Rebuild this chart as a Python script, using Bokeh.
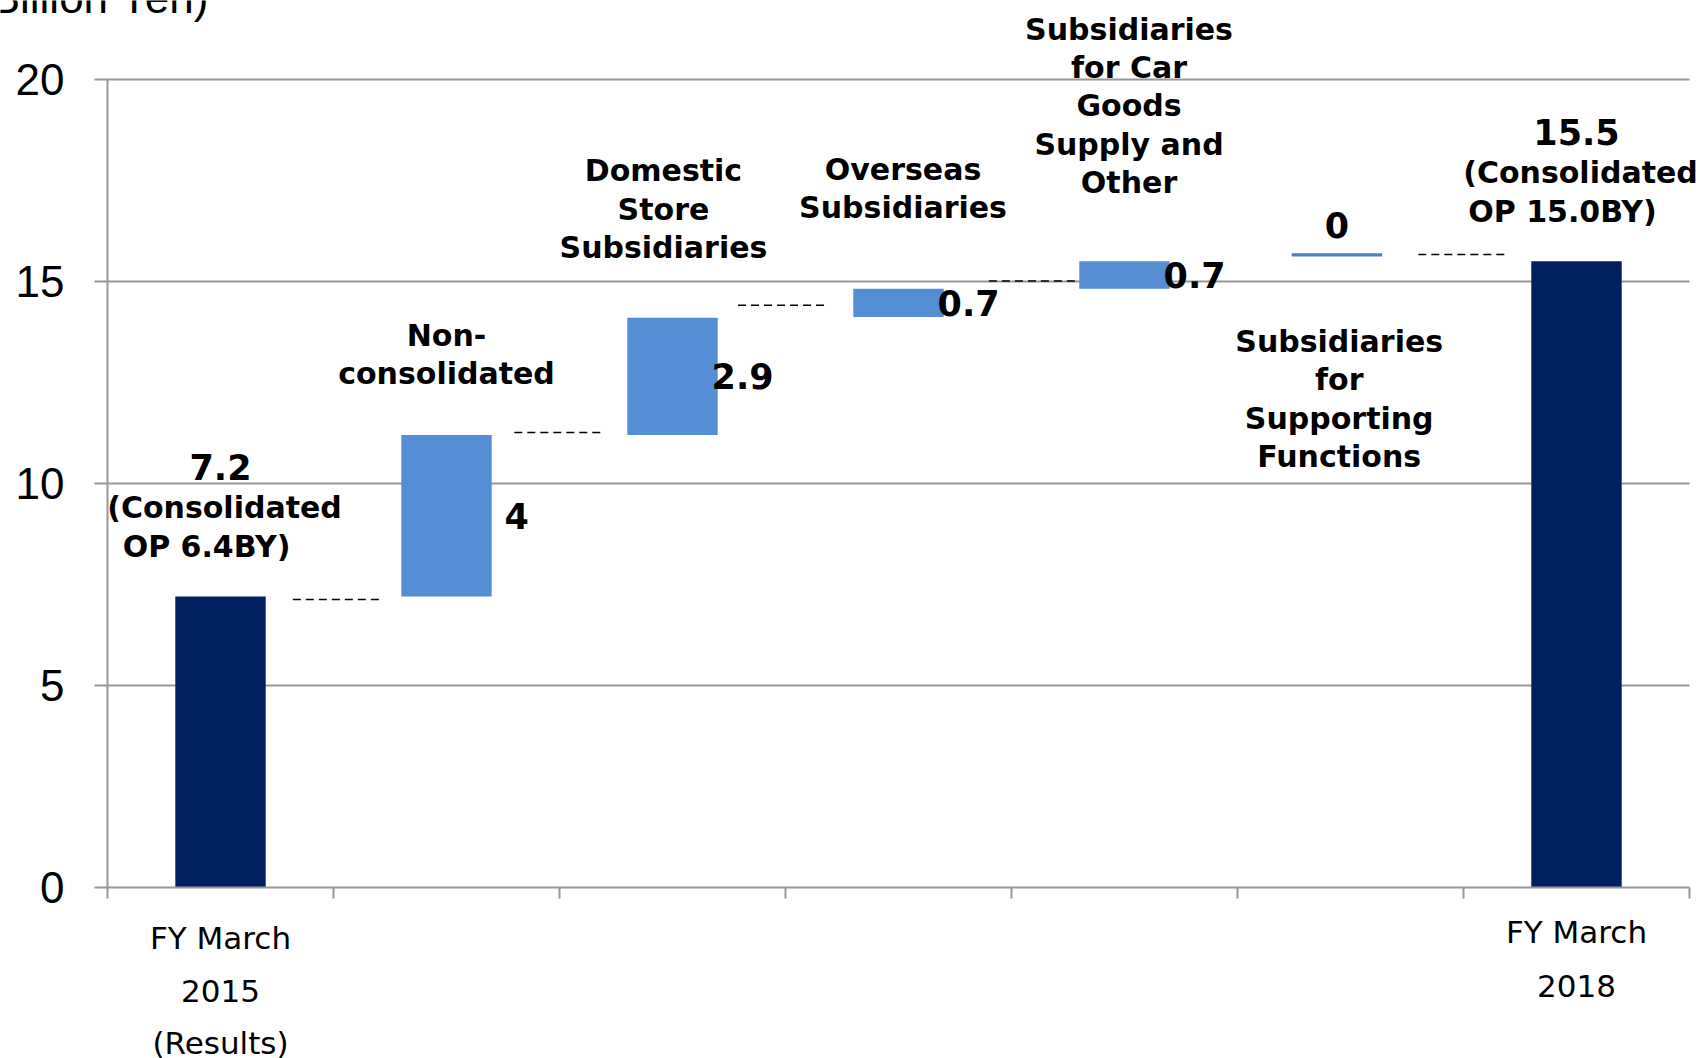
from bokeh.plotting import figure
from bokeh.models import Range1d, FixedTicker, Label
from bokeh.embed import file_html
from bokeh.resources import INLINE

# ---------------- data ----------------
categories = ["FY March 2015 (Results)", "Non-consolidated", "Domestic Store Subsidiaries",
              "Overseas Subsidiaries", "Subsidiaries for Car Goods Supply and Other",
              "Subsidiaries for Supporting Functions", "FY March 2018"]
bar_kind = ["total", "delta", "delta", "delta", "delta", "delta", "total"]
bar_bottom = [0, 7.2, 11.2, 14.12, 14.82, 15.62, 0]
bar_top = [7.2, 11.2, 14.1, 14.82, 15.5, 15.70, 15.5]
value_labels = ["7.2", "4", "2.9", "0.7", "0.7", "0", "15.5"]
consolidated_op = ["6.4", None, None, None, None, None, "15.0"]
connector_levels = [7.13, 11.26, 14.41, 15.01, 15.67]
connector_centers = [1.02, 2.0, 2.99, 4.1, 6.0]
y_ticks = [0, 5, 10, 15, 20]
axis_title = "(Billion Yen)"
x_label_lines = [["FY March", "2015", "(Results)"], None, None, None, None, None, ["FY March", "2018"]]
category_label_lines = [None,
                        ["Non-", "consolidated"],
                        ["Domestic", "Store", "Subsidiaries"],
                        ["Overseas", "Subsidiaries"],
                        ["Subsidiaries", "for Car", "Goods", "Supply and", "Other"],
                        ["Subsidiaries", "for", "Supporting", "Functions"],
                        None]

# ---------------- layout constants ----------------
caption_last_line_y = [None, 12.72, 15.84, 16.83, 17.45, 10.67, None]
caption_dx = [0, 0, -0.04, 0.02, 0.02, -0.05, 0]
x_label_y = [[-1.26, -2.57, -3.84], None, None, None, None, None, [-1.11, -2.43]]

NAVY = "#002060"
BLUE = "#558ED5"
ZERO_BLUE = "#4F81BD"
GRID = "#979797"

W, H = 1696, 1058
LEFT_PX, RIGHT_PX, TOP_PX, BOTTOM_PX = 107, 1689, 79, 887
n = len(categories)
ymax = y_ticks[-1]
px_x = (RIGHT_PX - LEFT_PX) / n
px_y = (BOTTOM_PX - TOP_PX) / ymax
x_range = Range1d(-LEFT_PX / px_x, n + (W - RIGHT_PX) / px_x)
y_range = Range1d(-(H - BOTTOM_PX) / px_y, ymax + TOP_PX / px_y)

p = figure(width=W, height=H, x_range=x_range, y_range=y_range,
           output_backend="svg", toolbar_location=None,
           min_border=0, min_border_left=0, min_border_right=0, min_border_top=0, min_border_bottom=0)
p.outline_line_color = None
p.background_fill_color = "white"
p.border_fill_color = "white"

# axes (placed at the data origin, frame covers the whole canvas)
p.yaxis.fixed_location = 0
p.yaxis.bounds = (0, ymax)
p.yaxis.ticker = FixedTicker(ticks=y_ticks)
p.yaxis.major_label_text_font = "Liberation Sans"
p.yaxis.major_label_text_font_size = "44px"
p.yaxis.major_label_text_color = "black"
p.yaxis.major_tick_out = 13
p.yaxis.major_tick_in = 0
p.yaxis.minor_tick_out = 0
p.yaxis.minor_tick_in = 0
p.yaxis.major_label_standoff = 30
p.yaxis.axis_line_color = GRID
p.yaxis.axis_line_width = 2
p.yaxis.major_tick_line_color = GRID
p.yaxis.major_tick_line_width = 2

p.xaxis.fixed_location = 0
p.xaxis.bounds = (0, n)
p.xaxis.ticker = FixedTicker(ticks=list(range(n + 1)))
p.xaxis.major_label_overrides = {i: "" for i in range(n + 1)}
p.xaxis.major_tick_out = 11
p.xaxis.major_tick_in = 0
p.xaxis.minor_tick_out = 0
p.xaxis.minor_tick_in = 0
p.xaxis.axis_line_color = GRID
p.xaxis.axis_line_width = 2
p.xaxis.major_tick_line_color = GRID
p.xaxis.major_tick_line_width = 2

p.xgrid.visible = False
p.ygrid.visible = False

# horizontal gridlines over the plotting area only
grid_y = [t for t in y_ticks if t > 0]
p.segment(x0=[0] * len(grid_y), x1=[n] * len(grid_y), y0=grid_y, y1=grid_y,
          line_color=GRID, line_width=2)

# bars
xs = []
colors = []
for i, k in enumerate(bar_kind):
    zero = (k == "delta" and value_labels[i] == "0")
    xs.append(i + 0.5 - (0.06 if zero else 0))
    colors.append(NAVY if k == "total" else (ZERO_BLUE if zero else BLUE))
p.vbar(x=xs, width=0.4, bottom=bar_bottom, top=bar_top, fill_color=colors, line_color=None)

# connectors
p.segment(x0=[c - 0.2 for c in connector_centers], x1=[c + 0.2 for c in connector_centers],
          y0=connector_levels, y1=connector_levels, line_color="black", line_width=1.5, line_dash="8 5")


def add_label(x, y, text, size, bold=True, font="DejaVu Sans", align="center", x_offset=0,
              baseline="middle"):
    p.add_layout(Label(x=x, y=y, text=text, text_font=font, text_font_size=f"{size}px",
                       text_font_style="bold" if bold else "normal", text_align=align,
                       text_baseline=baseline, x_offset=x_offset, text_color="black"))


# value labels
for i, k in enumerate(bar_kind):
    if k == "total":
        add_label(xs[i], bar_top[i] + 3.2, value_labels[i], 35)
        add_label(xs[i], bar_top[i] + 2.2, "(Consolidated", 30, x_offset=4)
        add_label(xs[i], bar_top[i] + 1.23, f"OP {consolidated_op[i]}BY)", 30, x_offset=-14)
    elif value_labels[i] == "0":
        add_label(xs[i], bar_top[i] + 0.71, value_labels[i], 35)
    else:
        add_label(xs[i] + 0.31, (bar_bottom[i] + bar_top[i]) / 2, value_labels[i], 35)

# category captions
for i, lines in enumerate(category_label_lines):
    if not lines:
        continue
    m = len(lines)
    for j, t in enumerate(lines):
        add_label(i + 0.5 + caption_dx[i], caption_last_line_y[i] + 0.95 * (m - 1 - j), t, 30)

# x-axis category labels
for i, lines in enumerate(x_label_lines):
    if not lines:
        continue
    for j, t in enumerate(lines):
        add_label(i + 0.5, x_label_y[i][j], t, 31, bold=False)

# axis title (partly cut off at the top-left of the page, as in the source)
add_label(0.45, 22.03, axis_title, 44, bold=False, font="Liberation Sans", align="right",
          baseline="alphabetic")

open("out.html", "w").write(file_html(p, INLINE))
